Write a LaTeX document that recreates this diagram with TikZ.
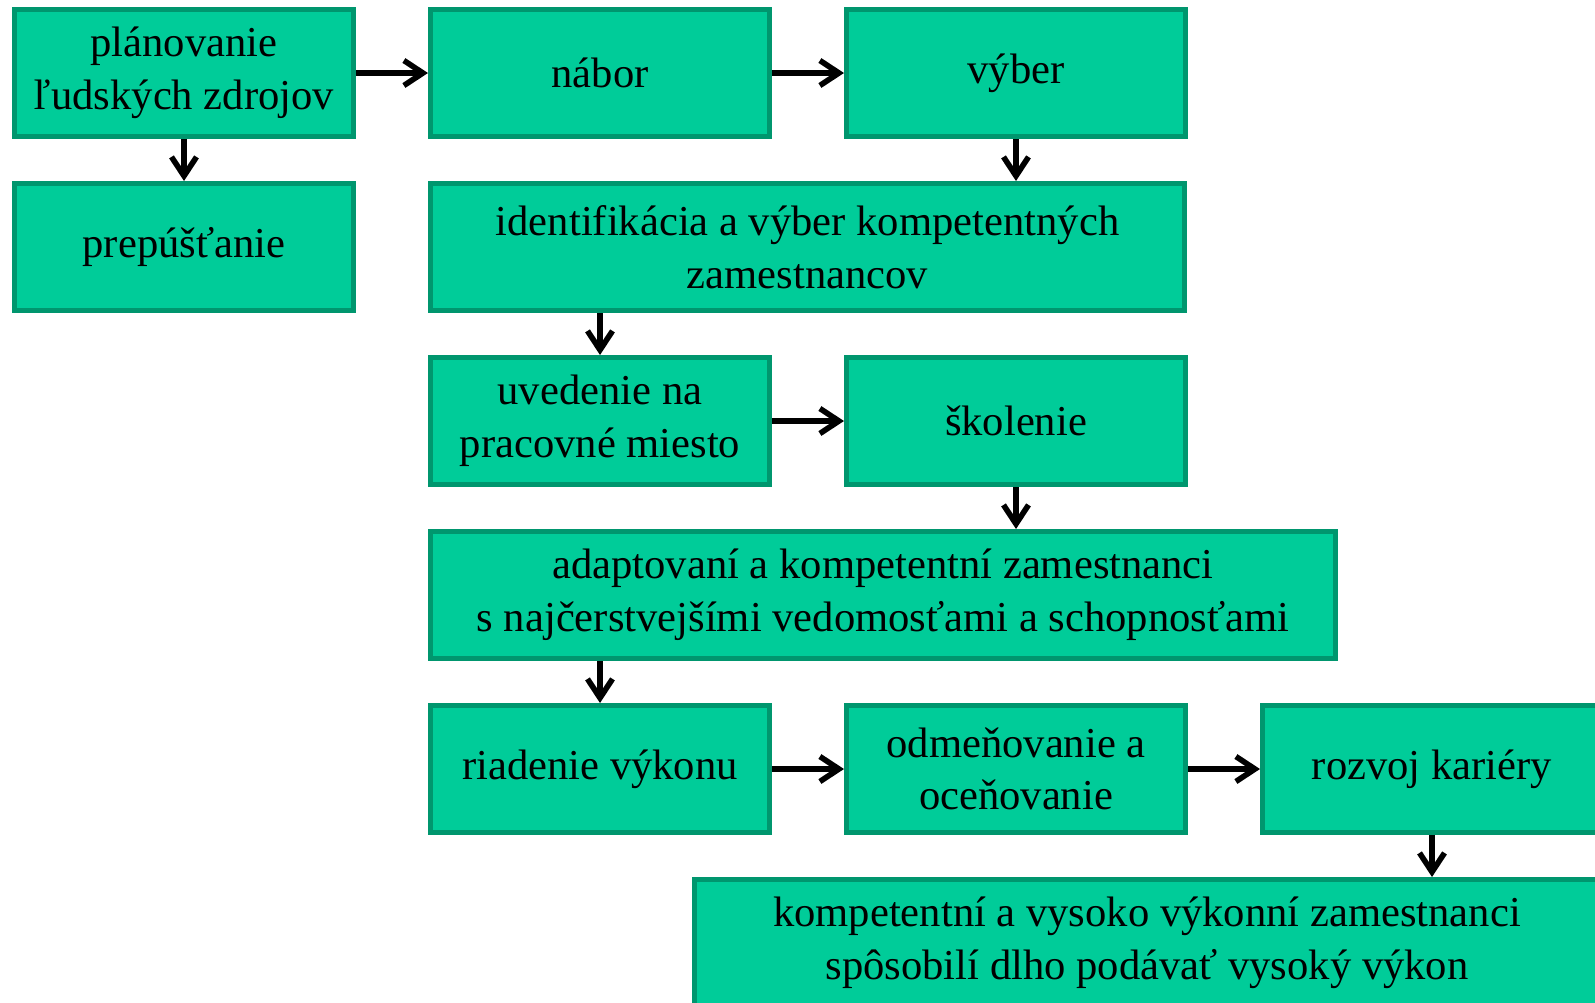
\documentclass[tikz,border=0pt]{standalone}
\usepackage{fontspec}
\setmainfont{Liberation Serif}
\usetikzlibrary{arrows.meta,positioning}
\definecolor{boxfill}{RGB}{0,204,153}
\definecolor{boxline}{RGB}{0,150,110}

\begin{document}
\begin{tikzpicture}[
    node distance=21pt and 36pt,
    box/.style={draw=boxline, line width=2.5pt, fill=boxfill, align=center, minimum width=169.5pt, minimum height=63.5pt, inner sep=0pt, font=\fontsize{21.3}{26.3}\selectfont},
    wide/.style={minimum width=377pt},
    wider/.style={minimum width=452.5pt},
    arrow/.style={-{Straight Barb[length=9.5pt,width=12.5pt]}, line width=2.8pt}
  ]
    \clip (0,0) rectangle (797.5pt,-501pt);
    \node[box, anchor=north west] (plan) at (6pt,-3.5pt) {plánovanie\\ľudských zdrojov};
    \node[box, right=of plan] (nabor) {nábor};
    \node[box, right=of nabor] (vyber) {výber};
    \node[box, below=of plan] (prep) {prepúšťanie};
    \node[box, wide, below=of nabor.south west, anchor=north west] (ident) {identifikácia a výber kompetentných\\zamestnancov};
    \node[box, below=of ident.south west, anchor=north west] (uved) {uvedenie na\\pracovné miesto};
    \node[box, right=of uved] (skol) {školenie};
    \node[box, wider, below=of uved.south west, anchor=north west] (adapt) {adaptovaní a kompetentní zamestnanci\\s najčerstvejšími vedomosťami a schopnosťami};
    \node[box, below=of adapt.south west, anchor=north west] (riad) {riadenie výkonu};
    \node[box, right=of riad] (odmen) {odmeňovanie a\\oceňovanie};
    \node[box, right=of odmen] (rozvoj) {rozvoj kariéry};
    \node[box, wider, below=of rozvoj, xshift=-142.5pt] (vysl) {kompetentní a vysoko výkonní zamestnanci\\spôsobilí dlho podávať vysoký výkon};
    \draw[arrow] (plan) -- (nabor);
    \draw[arrow] (nabor) -- (vyber);
    \draw[arrow] (plan) -- (prep);
    \draw[arrow] (vyber) -- (vyber |- ident.north);
    \draw[arrow] (ident.south -| uved) -- (uved);
    \draw[arrow] (uved) -- (skol);
    \draw[arrow] (skol) -- (skol |- adapt.north);
    \draw[arrow] (adapt.south -| riad) -- (riad);
    \draw[arrow] (riad) -- (odmen);
    \draw[arrow] (odmen) -- (rozvoj);
    \draw[arrow] (rozvoj) -- (rozvoj |- vysl.north);
  \end{tikzpicture}
\end{document}
